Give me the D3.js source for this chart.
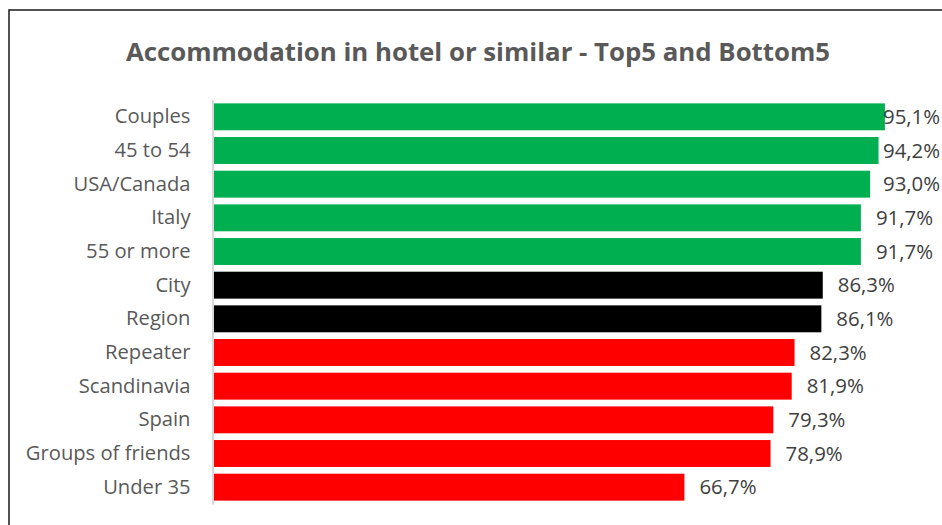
<!DOCTYPE html>
<html>
<head>
<meta charset="utf-8">
<script src="https://cdn.jsdelivr.net/npm/d3@7"></script>
<style>
  html, body { margin: 0; padding: 0; background: #fff; }
  svg { display: block; }
</style>
</head>
<body>
<div id="chart"></div>
<script>
// Share of travellers staying in a hotel or similar, by segment
const categories = ["Couples", "45 to 54", "USA/Canada", "Italy", "55 or more", "City", "Region",
  "Repeater", "Scandinavia", "Spain", "Groups of friends", "Under 35"];
const values = [95.1, 94.2, 93.0, 91.7, 91.7, 86.3, 86.1, 82.3, 81.9, 79.3, 78.9, 66.7];
const groups = ["top", "top", "top", "top", "top", "avg", "avg", "bottom", "bottom", "bottom", "bottom", "bottom"];
const groupColors = { top: "#00b050", avg: "#000000", bottom: "#ff0000" };

const W = 942, H = 525;
const svg = d3.select("#chart").append("svg").attr("width", W).attr("height", H);

// chart frame
svg.append("rect")
  .attr("x", 9).attr("y", 10).attr("width", W + 10).attr("height", H + 10)
  .attr("fill", "#fff").attr("stroke", "#1a1a1a").attr("stroke-width", 1.5);

svg.append("text")
  .attr("x", 478).attr("y", 61)
  .attr("text-anchor", "middle")
  .attr("font-family", "'Open Sans', sans-serif")
  .attr("font-weight", "bold")
  .attr("font-size", 25.8)
  .attr("fill", "#595959")
  .text("Accommodation in hotel or similar - Top5 and Bottom5");

const x = d3.scaleLinear().domain([0, 100]).range([213.5, 919.5]);
const y = d3.scaleBand().domain(categories).range([100, 504]).paddingInner(0.2).paddingOuter(0.1);

const fmt = v => d3.format(".1f")(v).replace(".", ",") + "%";

svg.append("g").selectAll("rect")
  .data(values)
  .join("rect")
  .attr("x", x(0))
  .attr("y", (d, i) => y(categories[i]))
  .attr("width", d => x(d) - x(0))
  .attr("height", y.bandwidth())
  .attr("fill", (d, i) => groupColors[groups[i]]);

// category axis
const yAxis = svg.append("g")
  .attr("transform", `translate(${x(0) - 1},0)`)
  .call(d3.axisLeft(y).tickSize(0).tickPadding(22));
yAxis.select(".domain").attr("stroke", "#d9d9d9").attr("stroke-width", 2);
yAxis.selectAll("text")
  .attr("font-family", "'Open Sans', sans-serif")
  .attr("font-size", 20.2)
  .attr("fill", "#595959");

// value labels
svg.append("g").selectAll("text")
  .data(values)
  .join("text")
  .attr("x", d => Math.min(x(d) + 15, 883))
  .attr("y", (d, i) => y(categories[i]) + y.bandwidth() / 2)
  .attr("dy", "0.35em")
  .attr("font-family", "'Open Sans', sans-serif")
  .attr("font-size", 20.4)
  .attr("fill", "#404040")
  .text(fmt);
</script>
</body>
</html>
